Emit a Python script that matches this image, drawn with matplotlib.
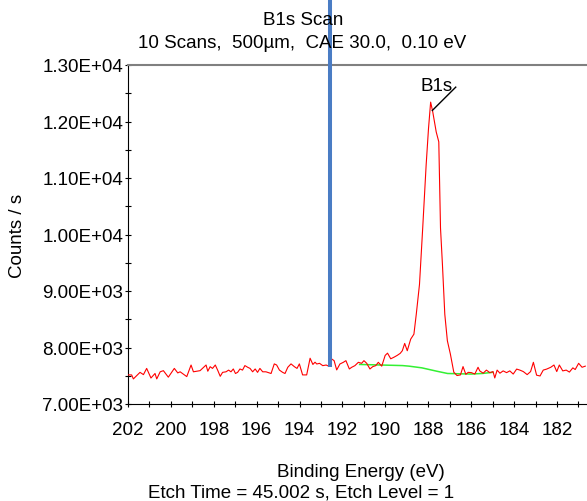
import matplotlib
matplotlib.use("Agg")
import matplotlib.pyplot as plt
from matplotlib.ticker import MultipleLocator, FuncFormatter

plt.rcParams['font.family'] = ['Liberation Sans', 'DejaVu Sans']

# ---- data ----
be_red = [202.00, 201.83, 201.75, 201.44, 201.28, 201.13, 200.93, 200.74, 200.66, 200.50,
          200.35, 200.12, 199.84, 199.68, 199.57, 199.26, 199.06, 198.95, 198.64, 198.36,
          198.28, 198.17, 198.06, 197.93, 197.81, 197.70, 197.59, 197.43, 197.31, 197.20,
          197.09, 196.99, 196.89, 196.78, 196.66, 196.55, 196.42, 196.31, 196.19, 196.07,
          195.96, 195.85, 195.72, 195.57, 195.33, 195.18, 195.07, 194.94, 194.79, 194.68,
          194.55, 194.40, 194.24, 194.12, 194.01, 193.86, 193.67, 193.51, 193.38, 193.28,
          193.20, 193.07, 192.92, 192.76, 192.65, 192.50, 192.39, 192.27, 192.12, 191.96,
          191.84, 191.68, 191.57, 191.42, 191.26, 191.11, 191.00, 190.87, 190.72, 190.59,
          190.45, 190.33, 190.17, 190.01, 189.90, 189.75, 189.59, 189.45, 189.31, 189.21,
          189.10, 188.98, 188.82, 188.67, 188.56, 188.41, 188.26, 188.10, 187.99, 187.89,
          187.79, 187.63, 187.51, 187.43, 187.34, 187.23, 187.11, 186.97, 186.81, 186.66,
          186.50, 186.38, 186.25, 186.14, 185.99, 185.83, 185.68, 185.60, 185.44, 185.29,
          185.13, 184.98, 184.90, 184.79, 184.66, 184.51, 184.35, 184.20, 184.04, 183.88,
          183.73, 183.57, 183.39, 183.23, 183.10, 182.95, 182.79, 182.64, 182.48, 182.29,
          182.14, 182.01, 181.89, 181.73, 181.57, 181.42, 181.26, 181.15, 180.99, 180.83,
          180.68]
cps_red = [7515, 7515, 7444, 7560, 7520, 7630, 7460, 7540, 7444, 7570,
           7590, 7475, 7630, 7550, 7570, 7485, 7690, 7570, 7590, 7690,
           7580, 7660, 7630, 7690, 7590, 7490, 7560, 7570, 7600, 7570,
           7620, 7540, 7560, 7620, 7600, 7680, 7650, 7630, 7570, 7620,
           7560, 7630, 7570, 7570, 7540, 7710, 7690, 7600, 7560, 7540,
           7650, 7710, 7660, 7630, 7710, 7515, 7515, 7810, 7700, 7740,
           7708, 7720, 7679, 7690, 7670, 7796, 7767, 7603, 7708, 7738,
           7767, 7620, 7650, 7679, 7738, 7720, 7767, 7720, 7620, 7661,
           7679, 7738, 7670, 7860, 7900, 7800, 7830, 7860, 7896, 7943,
           8072, 7943, 8148, 8236, 8588, 9116, 10114, 11228, 11874, 12343,
           12167, 11815, 11640, 10114, 9468, 8588, 8119, 7884, 7562, 7504,
           7515, 7662, 7525, 7560, 7555, 7530, 7650, 7586, 7545, 7600,
           7555, 7574, 7461, 7600, 7545, 7586, 7555, 7586, 7530, 7618,
           7600, 7574, 7520, 7574, 7738, 7510, 7496, 7600, 7618, 7650,
           7690, 7574, 7690, 7586, 7600, 7565, 7640, 7610, 7720, 7650,
           7670]

be_bg = [191.2, 190.2, 189.2, 188.9, 188.3, 187.6, 187.1, 186.0, 185.5, 185.0]
cps_bg = [7700, 7690, 7680, 7670, 7640, 7580, 7540, 7530, 7540, 7560]

marker_be = 192.56
marker_cps = [7655, 14400]

peak_label = "B1s"
peak_point = (187.81, 12196)
label_end = (186.72, 12608)
label_pos = (187.61, 12560)

title1 = "B1s Scan"
title2 = "10 Scans,  500µm,  CAE 30.0,  0.10 eV"
xlab = "Binding Energy (eV)"
ylab = "Counts / s"
footer = "Etch Time = 45.002 s, Etch Level = 1"

FS = 13.5
W, H = 587, 502
fig = plt.figure(figsize=(W / 100, H / 100), dpi=100)
ax = fig.add_axes([128 / W, 1 - 405 / H, 1 - 128 / W, (405 - 66) / H])

ax.plot(be_red, cps_red, color='#ff0000', lw=0.8, zorder=3)
ax.plot(be_bg, cps_bg, color='#33f033', lw=1.1, zorder=2)
ax.plot([marker_be, marker_be], marker_cps, color='#4a7cc4', lw=2.9,
        clip_on=False, zorder=5, solid_capstyle='butt')

ax.plot([peak_point[0], label_end[0]], [peak_point[1], label_end[1]],
        color='black', lw=1.0, zorder=4)
ax.text(label_pos[0], label_pos[1], peak_label, fontsize=FS, ha='center',
        va='baseline', zorder=4)

ax.set_xlim(202.0, 180.6)
ax.set_ylim(7000, 13000)
ax.xaxis.set_major_locator(MultipleLocator(2))
ax.xaxis.set_minor_locator(MultipleLocator(1))
ax.yaxis.set_major_locator(MultipleLocator(1000))
ax.yaxis.set_minor_locator(MultipleLocator(500))
ax.yaxis.set_major_formatter(FuncFormatter(lambda v, p: f"{v:.2E}"))
ax.xaxis.set_major_formatter(FuncFormatter(lambda v, p: f"{v:.0f}"))

ax.tick_params(axis='y', which='both', direction='inout', length=4.3, width=0.8,
               labelsize=FS, pad=1.2)
ax.tick_params(axis='x', which='both', direction='inout', length=5.0, width=0.8,
               labelsize=FS, pad=10.0)
ax.spines['right'].set_visible(False)
ax.spines['top'].set_color('#808080')
ax.spines['top'].set_linewidth(1.5)
ax.spines['left'].set_linewidth(0.8)
ax.spines['bottom'].set_linewidth(0.8)

fig.text(303 / W, 1 - 25 / H, title1, fontsize=FS, ha='center', va='baseline')
fig.text(302.5 / W, 1 - 48.5 / H, title2, fontsize=FS, ha='center', va='baseline')
fig.text(361 / W, 1 - 477.5 / H, xlab, fontsize=FS, ha='center', va='baseline')
fig.text(301.5 / W, 1 - 498 / H, footer, fontsize=FS, ha='center', va='baseline')
fig.text(18 / W, 1 - 236 / H, ylab, fontsize=FS, ha='center', va='center',
         rotation=90)

fig.savefig("out.png", dpi=100)
